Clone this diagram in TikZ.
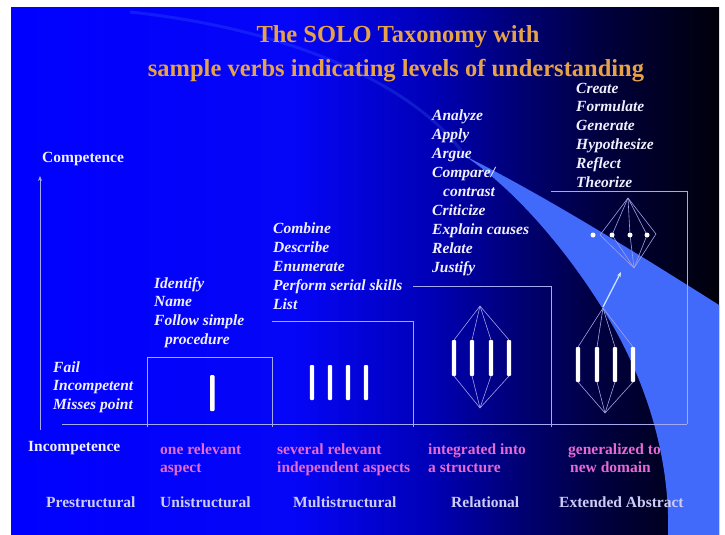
\documentclass[tikz,border=0pt]{standalone}
\usepackage{fontspec}
\setmainfont{Liberation Serif}
\usetikzlibrary{arrows.meta}
\definecolor{titlecol}{RGB}{230,162,72}
\definecolor{verbcol}{RGB}{240,240,255}
\definecolor{pinkcol}{RGB}{232,105,210}
\definecolor{levcol}{RGB}{205,205,245}
\definecolor{linecol}{RGB}{165,170,240}
\definecolor{strucol}{RGB}{160,160,230}
\definecolor{wedgecol}{RGB}{65,105,250}
\definecolor{arrowcol}{RGB}{200,230,255}
\pgfdeclarehorizontalshading{slidebg}{100bp}{rgb(0bp)=(0,0,1); rgb(25bp)=(0,0,1); rgb(45bp)=(0.02,0.02,0.97); rgb(54.5bp)=(0,0,0.72); rgb(61bp)=(0,0,0.45); rgb(66.5bp)=(0,0,0.25); rgb(75bp)=(0,0,0.04); rgb(100bp)=(0,0,0.04)}
\newcommand{\bodyfont}{\fontsize{15.5}{18}\selectfont\bfseries}
\tikzset{
  verb/.style={anchor=base west, inner sep=0pt, text=verbcol, font=\bodyfont\itshape},
  plainw/.style={anchor=base west, inner sep=0pt, text=verbcol, font=\bodyfont},
  pink/.style={anchor=base west, inner sep=0pt, text=pinkcol, font=\bodyfont},
  level/.style={anchor=base west, inner sep=0pt, text=levcol, font=\bodyfont},
  ttl/.style={anchor=base, inner sep=0pt, text=titlecol, font=\fontsize{24.5}{28}\selectfont\bfseries},
  boxline/.style={draw=linecol, line width=0.9pt},
  struc/.style={draw=strucol, line width=0.6pt},
  bar/.style={fill=white, rounded corners=1pt},
  dotw/.style={fill=white, circle, inner sep=0pt, minimum size=5pt}
}
\begin{document}
\begin{tikzpicture}[x=1pt,y=-1pt]
\useasboundingbox (0,0) rectangle (725,535);
\fill[white] (0,0) rectangle (725,535);
% background
\shade[shading=slidebg] (11,8) rectangle (719,535);
% faint arc and light wedge
\draw[wedgecol, opacity=0.25, line width=3pt] (130,12) .. controls (300,30) and (420,90) .. (465,156);
\fill[wedgecol] (465,156) .. controls (540,193) and (640,255) .. (719,305) -- (719,535) -- (668,535) .. controls (670,470) and (653,400) .. (618,335) .. controls (588,280) and (530,200) .. (465,156) -- cycle;

% title
\node[ttl] (t1) at (398,43) {The SOLO Taxonomy with};
\node[ttl] (t2) at (396,77) {sample verbs indicating levels of understanding};

% axis
\coordinate (axb) at (40,430);
\coordinate (axt) at (40,176);
\draw[linecol, line width=0.9pt, -{Stealth[length=5pt,width=4pt]}] (axb) -- (axt);
\coordinate (bl) at (62,424);
\coordinate (br) at (687,424);
\draw[boxline] (bl) -- (br);

% step boxes
\draw[boxline] (147,427) -- (147,357) -- (272,357) -- (272,427);
\draw[boxline] (272,321) -- (413,321) -- (413,427);
\draw[boxline] (413,286) -- (551,286) -- (551,427);
\draw[boxline] (551,191) -- (687,191) -- (687,424);

% unistructural bar
\fill[bar] (210,375) rectangle (214.5,411);
% multistructural bars
\foreach \x in {312,330,348,366} \fill[bar] (\x-2.2,365) rectangle (\x+2.2,400);

% relational structure
\coordinate (rtop) at (480,306);
\coordinate (rbot) at (480,408);
\foreach \x in {454,472,491,509} {
  \draw[struc] (rtop) -- (\x,340);
  \draw[struc] (\x,376) -- (rbot);
}
\foreach \x in {454,472,491,509} \fill[bar] (\x-2.2,340) rectangle (\x+2.2,376);

% extended abstract: lower structure
\coordinate (etop) at (603,308);
\coordinate (ebot) at (605,413);
\foreach \x in {578,597,615,633} {
  \draw[struc] (etop) -- (\x,347);
  \draw[struc] (\x,382) -- (ebot);
}
\foreach \x in {578,597,615,633} \fill[bar] (\x-2.2,347) rectangle (\x+2.2,382);

% extended abstract: upper structure
\coordinate (utop) at (628,198);
\coordinate (ubot) at (634,268);
\coordinate (uright) at (656,234);
\draw[struc] (utop) -- (uright) -- (ubot);
\foreach \x in {600,612,630,647} {
  \draw[struc] (utop) -- (\x,235) -- (ubot);
}
\foreach \x [count=\i] in {593,612,630,647} \node[dotw] (d\i) at (\x,235) {};
\coordinate (arrS) at (603,307);
\coordinate (arrE) at (621,272);
\draw[arrowcol, line width=1.3pt, -{Stealth[length=5pt,width=4pt]}] (arrS) -- (arrE);

% axis labels
\node[plainw] (comp) at (42,162) {Competence};
\node[plainw] (incomp) at (28,451) {Incompetence};

% prestructural verbs
\node[verb] (p1) at (53,372) {Fail};
\node[verb] (p2) at (53,390.5) {Incompetent};
\node[verb] (p3) at (53,409) {Misses point};

% unistructural verbs
\node[verb] (u1) at (154,288) {Identify};
\node[verb] (u2) at (154,306.7) {Name};
\node[verb] (u3) at (154,325.4) {Follow simple};
\node[verb] (u4) at (165,344) {procedure};

% multistructural verbs
\node[verb] (m1) at (273,233) {Combine};
\node[verb] (m2) at (273,252) {Describe};
\node[verb] (m3) at (273,271) {Enumerate};
\node[verb] (m4) at (273,290) {Perform serial skills};
\node[verb] (m5) at (273,309) {List};

% relational verbs
\node[verb] (r1) at (432,120) {Analyze};
\node[verb] (r2) at (432,139) {Apply};
\node[verb] (r3) at (432,158) {Argue};
\node[verb] (r4) at (432,177) {Compare/};
\node[verb] (r5) at (443,196) {contrast};
\node[verb] (r6) at (432,215) {Criticize};
\node[verb] (r7) at (432,234) {Explain causes};
\node[verb] (r8) at (432,253) {Relate};
\node[verb] (r9) at (432,272) {Justify};

% extended verbs
\node[verb] (e1) at (576,93) {Create};
\node[verb] (e2) at (576,111.8) {Formulate};
\node[verb] (e3) at (576,130.6) {Generate};
\node[verb] (e4) at (576,149.4) {Hypothesize};
\node[verb] (e5) at (576,168.2) {Reflect};
\node[verb] (e6) at (576,187) {Theorize};

% pink descriptions
\node[pink] (k1a) at (160,454) {one relevant};
\node[pink] (k1b) at (160,472) {aspect};
\node[pink] (k2a) at (277,454) {several relevant};
\node[pink] (k2b) at (277,472) {independent aspects};
\node[pink] (k3a) at (428,454) {integrated into};
\node[pink] (k3b) at (428,472) {a structure};
\node[pink] (k4a) at (568,454) {generalized to};
\node[pink] (k4b) at (570,472) {new domain};

% level names
\node[level] (l1) at (46,507) {Prestructural};
\node[level] (l2) at (160,507) {Unistructural};
\node[level] (l3) at (293,507) {Multistructural};
\node[level] (l4) at (451,507) {Relational};
\node[level] (l5) at (559,507) {Extended Abstract};
\end{tikzpicture}
\end{document}
